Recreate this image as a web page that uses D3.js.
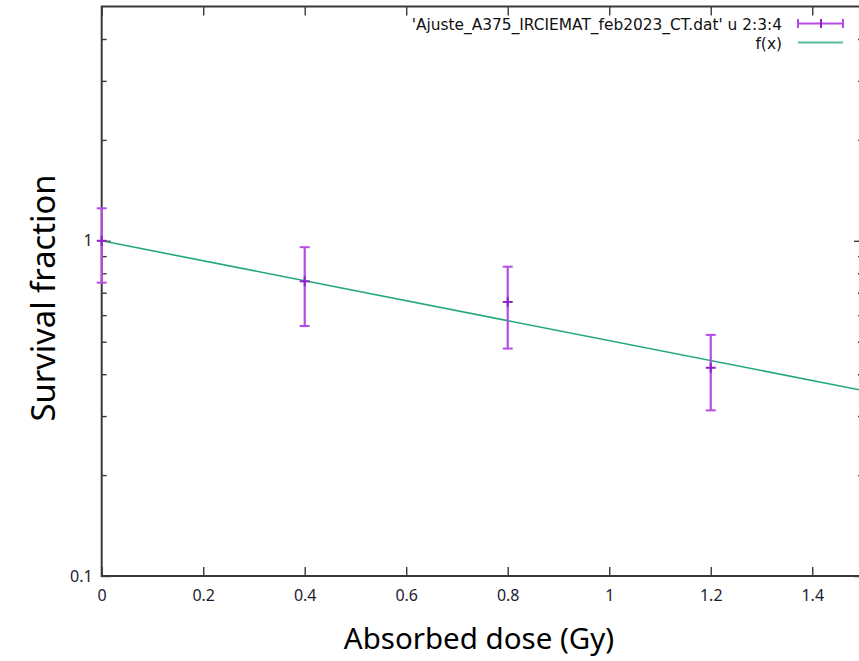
<!DOCTYPE html>
<html><head><meta charset="utf-8">
<script src="https://cdn.jsdelivr.net/npm/d3@7"></script>
<style>body{margin:0;background:#fff} svg{display:block}</style>
</head><body>
<svg id="c" width="859" height="661"></svg>
<script>
// ---- data ----
const doses = [0, 0.4, 0.8, 1.2];
const survival = [1.0, 0.757, 0.657, 0.418];
const survivalErr = [0.25, 0.20, 0.18, 0.106];
const fitDose = [0, 1.5];
const fitSurvival = [1.0, 0.3576];
const xTicks = [0, 0.2, 0.4, 0.6, 0.8, 1, 1.2, 1.4];
const xTickLabels = ["0", "0.2", "0.4", "0.6", "0.8", "1", "1.2", "1.4"];
const yMajorTicks = [0.1, 1];
const yTickLabels = ["0.1", "1"];
const yMinorTicks = [0.2, 0.3, 0.4, 0.5, 0.6, 0.7, 0.8, 0.9, 2, 3, 4];
const legendLabels = ["'Ajuste_A375_IRCIEMAT_feb2023_CT.dat' u 2:3:4", "f(x)"];
const xTitle = "Absorbed dose (Gy)";
const yTitle = "Survival fraction";

// ---- layout ----
const L = 101.7, R = 863, T = 6.5, B = 576;
const FONT = "'Noto Sans', sans-serif";
const LFONT = "'DejaVu Sans', sans-serif";
const errColor = "#b54ce6", markColor = "#8e22c8", fitColor = "#22a97b";
const axisColor = "#3a3a3a";

const svg = d3.select("#c");
const x = d3.scaleLinear().domain([0, 1.5]).range([L, R]);
const y = d3.scaleLog().domain([0.1, 5]).range([B, T]);

// axes
const fmtX = (d) => xTickLabels[xTicks.indexOf(d)];
const fmtY = (d) => yTickLabels[yMajorTicks.indexOf(d)];

const gB = svg.append("g").attr("transform", `translate(0,${B})`)
  .call(d3.axisBottom(x).tickValues(xTicks).tickFormat(fmtX).tickSize(-9).tickPadding(14));
const gT = svg.append("g").attr("transform", `translate(0,${T})`)
  .call(d3.axisTop(x).tickValues(xTicks).tickFormat("").tickSize(-9));
const gL = svg.append("g").attr("transform", `translate(${L},0)`)
  .call(d3.axisLeft(y).tickValues(yMajorTicks).tickFormat(fmtY).tickSize(-9).tickPadding(9));
const gR = svg.append("g").attr("transform", `translate(${R},0)`)
  .call(d3.axisRight(y).tickValues(yMajorTicks).tickFormat("").tickSize(-9));
const gLm = svg.append("g").attr("transform", `translate(${L},0)`)
  .call(d3.axisLeft(y).tickValues(yMinorTicks).tickFormat("").tickSize(-5));
const gRm = svg.append("g").attr("transform", `translate(${R},0)`)
  .call(d3.axisRight(y).tickValues(yMinorTicks).tickFormat("").tickSize(-5));

[gB, gT, gL, gR, gLm, gRm].forEach(g => {
  g.select(".domain").remove();
  g.selectAll(".tick line").attr("stroke", axisColor).attr("stroke-width", 1.4);
  g.selectAll(".tick text").attr("font-family", FONT).attr("font-size", 16).attr("fill", "#1c1c30");
});

// frame
svg.append("rect").attr("x", L).attr("y", T).attr("width", R - L).attr("height", B - T)
  .attr("fill", "none").attr("stroke", axisColor).attr("stroke-width", 2);

// fit line
const pts = fitDose.map((d, i) => [d, fitSurvival[i]]);
svg.append("path").datum(pts)
  .attr("d", d3.line().x(d => x(d[0])).y(d => y(d[1])))
  .attr("fill", "none").attr("stroke", fitColor).attr("stroke-width", 1.6);

// error bars
const data = doses.map((d, i) => ({ d, s: survival[i], e: survivalErr[i] }));
const eb = svg.append("g").selectAll("g").data(data).join("g");
eb.append("line").attr("x1", p => x(p.d)).attr("x2", p => x(p.d))
  .attr("y1", p => y(p.s + p.e)).attr("y2", p => y(p.s - p.e))
  .attr("stroke", errColor).attr("stroke-width", 2.2);
eb.append("line").attr("x1", p => x(p.d) - 5).attr("x2", p => x(p.d) + 5)
  .attr("y1", p => y(p.s + p.e)).attr("y2", p => y(p.s + p.e))
  .attr("stroke", errColor).attr("stroke-width", 2);
eb.append("line").attr("x1", p => x(p.d) - 5).attr("x2", p => x(p.d) + 5)
  .attr("y1", p => y(p.s - p.e)).attr("y2", p => y(p.s - p.e))
  .attr("stroke", errColor).attr("stroke-width", 2);
eb.append("line").attr("x1", p => x(p.d) - 5).attr("x2", p => x(p.d) + 5)
  .attr("y1", p => y(p.s)).attr("y2", p => y(p.s))
  .attr("stroke", markColor).attr("stroke-width", 2);
eb.append("line").attr("x1", p => x(p.d)).attr("x2", p => x(p.d))
  .attr("y1", p => y(p.s) - 5).attr("y2", p => y(p.s) + 5)
  .attr("stroke", markColor).attr("stroke-width", 2);

// legend
const lg = svg.append("g");
lg.append("text").attr("x", 782).attr("y", 30).attr("text-anchor", "end")
  .attr("font-family", LFONT).attr("font-size", 15.4).attr("fill", "#111").text(legendLabels[0]);
lg.append("text").attr("x", 782).attr("y", 49).attr("text-anchor", "end")
  .attr("font-family", LFONT).attr("font-size", 15.4).attr("fill", "#111").text(legendLabels[1]);
lg.append("line").attr("x1", 798).attr("x2", 843).attr("y1", 23.5).attr("y2", 23.5)
  .attr("stroke", errColor).attr("stroke-width", 2);
[798, 843].forEach(cx => lg.append("line").attr("x1", cx).attr("x2", cx)
  .attr("y1", 19).attr("y2", 28).attr("stroke", errColor).attr("stroke-width", 2));
lg.append("line").attr("x1", 821).attr("x2", 821).attr("y1", 19).attr("y2", 28)
  .attr("stroke", markColor).attr("stroke-width", 2);
lg.append("line").attr("x1", 798).attr("x2", 843).attr("y1", 42.5).attr("y2", 42.5)
  .attr("stroke", fitColor).attr("stroke-width", 2.2).attr("opacity", 0.75);

// titles
svg.append("text").attr("x", 479).attr("y", 649).attr("text-anchor", "middle")
  .attr("font-family", FONT).attr("font-size", 29.5).attr("fill", "#000").text(xTitle);
svg.append("text").attr("transform", "translate(55,298) rotate(-90)").attr("text-anchor", "middle")
  .attr("font-family", FONT).attr("font-size", 32.7).attr("fill", "#000").text(yTitle);
</script>
</body></html>
